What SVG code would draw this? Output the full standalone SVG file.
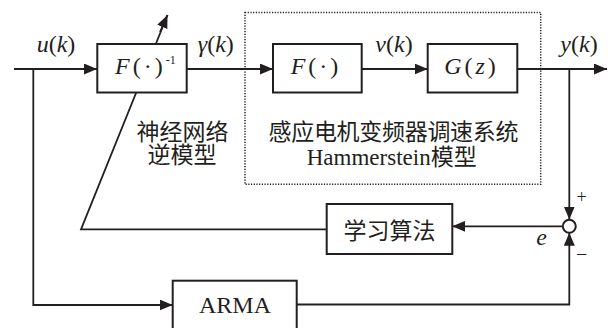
<svg xmlns="http://www.w3.org/2000/svg" width="612" height="328" viewBox="0 0 612 328">
<defs>
<marker id="ah" markerUnits="userSpaceOnUse" markerWidth="13" markerHeight="11" refX="13" refY="5.5" orient="auto"><path d="M0,0 L13,5.5 L0,11 z" fill="#231f20"/></marker>
<style>
.blk{fill:#fff;stroke:#231f20;stroke-width:2}
.ln{fill:none;stroke:#231f20;stroke-width:1.8}
.ser{font-family:"Liberation Serif","Times New Roman",serif;fill:#231f20}
.cjk{font-family:"Liberation Serif","Noto Sans CJK SC",serif;fill:#231f20;font-size:23px}
.it{font-style:italic}
</style>
</defs>
<rect width="612" height="328" fill="#fff"/>
<g id="hammerstein">
<rect x="245" y="12.5" width="295.7" height="171.8" fill="none" stroke="#231f20" stroke-width="1.5" stroke-dasharray="1.2 1.5"/>
<text class="cjk" x="393.5" y="140" text-anchor="middle" textLength="250" lengthAdjust="spacing">感应电机变频器调速系统</text>
<text class="cjk" x="391.7" y="165" text-anchor="middle">Hammerstein模型</text>
</g>
<g id="connectors">
<path class="ln" d="M14,69 H97" marker-end="url(#ah)"/>
<path class="ln" d="M33.3,69 V305 H172.7" marker-end="url(#ah)"/>
<path class="ln" d="M186.7,69 H273" marker-end="url(#ah)"/>
<path class="ln" d="M361.7,69 H427.7" marker-end="url(#ah)"/>
<path class="ln" d="M517.3,69 H607" marker-end="url(#ah)"/>
<path class="ln" d="M569.3,69 V219.5" marker-end="url(#ah)"/>
<path class="ln" d="M296.7,304.5 H569.3 V232.8" marker-end="url(#ah)"/>
<path class="ln" d="M562.8,226.3 H452.3" marker-end="url(#ah)"/>
<path class="ln" d="M326.7,229.3 H81 L167.5,15"/>
<path class="ln" d="M160,32 L167.5,15" marker-end="url(#ah)"/>
</g>
<g id="finv">
<rect class="blk" x="97.3" y="44" width="89.4" height="48.5"/>
<text class="ser" x="115" y="74.3" font-size="24" letter-spacing="3"><tspan class="it">F</tspan>(·)<tspan font-size="12" dy="-10.5" letter-spacing="0">-1</tspan></text>
</g>
<g id="fbox">
<rect class="blk" x="273" y="44" width="88.7" height="48.5"/>
<text class="ser" x="316" y="74.3" font-size="24" letter-spacing="3" text-anchor="middle"><tspan class="it">F</tspan>(·)</text>
</g>
<g id="gbox">
<rect class="blk" x="427.7" y="44" width="89.6" height="48.5"/>
<text class="ser" x="471.5" y="74.3" font-size="24" letter-spacing="3" text-anchor="middle"><tspan class="it">G</tspan>(<tspan class="it">z</tspan>)</text>
</g>
<g id="learn">
<rect class="blk" x="326.7" y="204" width="125.6" height="50"/>
<text class="cjk" x="389.5" y="238.5" text-anchor="middle">学习算法</text>
</g>
<g id="arma">
<rect class="blk" x="172.7" y="280.7" width="124" height="52"/>
<text class="ser" x="235" y="313.3" font-size="24" text-anchor="middle">ARMA</text>
</g>
<g id="sum">
<circle cx="569.3" cy="226.3" r="6.5" fill="#fff" stroke="#231f20" stroke-width="2"/>
<text class="ser" x="581.7" y="203" font-size="18" text-anchor="middle">+</text>
<text class="ser" x="581.7" y="261" font-size="20" text-anchor="middle">−</text>
<text class="ser it" x="541.7" y="245" font-size="24" text-anchor="middle">e</text>
</g>
<g id="labels">
<text class="ser" x="56" y="51.5" font-size="24" text-anchor="middle"><tspan class="it">u</tspan>(<tspan class="it">k</tspan>)</text>
<text class="ser" x="215.8" y="51.5" font-size="24" text-anchor="middle"><tspan class="it">γ</tspan>(<tspan class="it">k</tspan>)</text>
<text class="ser" x="394" y="51.5" font-size="24" text-anchor="middle"><tspan class="it">v</tspan>(<tspan class="it">k</tspan>)</text>
<text class="ser" x="579" y="51.5" font-size="24" text-anchor="middle"><tspan class="it">y</tspan>(<tspan class="it">k</tspan>)</text>
<text class="cjk" x="182.5" y="140" text-anchor="middle">神经网络</text>
<text class="cjk" x="182" y="163" text-anchor="middle">逆模型</text>
</g>
</svg>
